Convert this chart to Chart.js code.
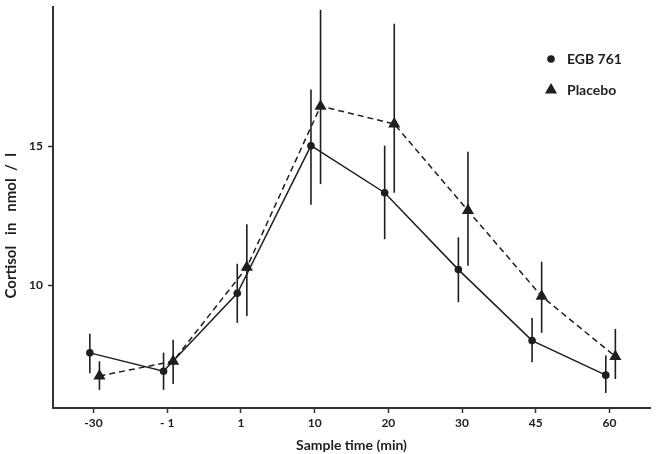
<!DOCTYPE html>
<html><head><meta charset="utf-8">
<script src="https://cdn.jsdelivr.net/npm/chart.js@4.4.1/dist/chart.umd.min.js"></script>
<style>html,body{margin:0;padding:0;background:#fff}#wrap{width:657px;height:454px;position:relative}</style>
</head><body><div id="wrap"><canvas id="c"></canvas></div>
<script>
const categories = ['-30', '- 1', '1', '10', '20', '30', '45', '60'];
const egbMean = [7.58, 6.92, 9.72, 15.02, 13.33, 10.57, 8.02, 6.78];
const egbLow  = [6.85, 6.25, 8.66, 12.90, 11.66, 9.40, 7.24, 6.14];
const egbHigh = [8.27, 7.59, 10.78, 17.04, 15.02, 11.73, 8.83, 7.49];
const plaMean = [6.75, 7.28, 10.65, 16.44, 15.80, 12.69, 9.61, 7.45];
const plaLow  = [6.25, 6.46, 8.90, 13.64, 13.33, 10.71, 8.30, 6.64];
const plaHigh = [7.28, 8.05, 12.20, 19.90, 19.40, 14.80, 10.85, 8.44];
const yTicks = [10, 15];

const INK = '#1e1e1e';
const FONT = 'Lato, "Open Sans", sans-serif';
const EGB_SHIFT = -0.05, PLA_SHIFT = 0.08;

function pts(mean, lo, hi, shift) {
  return mean.map((v, i) => ({ x: i + shift, y: v, lo: lo[i], hi: hi[i] }));
}

const errorBars = {
  id: 'errorBars',
  beforeDatasetsDraw(chart) {
    const { ctx, scales: { x, y } } = chart;
    ctx.save();
    ctx.strokeStyle = INK;
    ctx.lineWidth = 1.6;
    chart.data.datasets.forEach(ds => {
      ds.data.forEach(p => {
        const px = x.getPixelForValue(p.x);
        ctx.beginPath();
        ctx.moveTo(px, y.getPixelForValue(p.lo));
        ctx.lineTo(px, y.getPixelForValue(p.hi));
        ctx.stroke();
      });
    });
    ctx.restore();
  }
};

const legendBox = {
  id: 'legendBox',
  afterDraw(chart) {
    const { ctx, chartArea } = chart;
    ctx.save();
    ctx.fillStyle = INK;
    ctx.font = 'bold 14px ' + FONT;
    ctx.textBaseline = 'middle';
    const mx = chartArea.right - 99, tx = chartArea.right - 83;
    const rows = [chartArea.top + 52, chartArea.top + 83];
    chart.data.datasets.forEach((ds, i) => {
      const cy = rows[i];
      ctx.beginPath();
      if (ds.pointStyle === 'triangle') {
        const r = 7;
        ctx.moveTo(mx, cy - r);
        ctx.lineTo(mx + r * 0.866, cy + r * 0.5);
        ctx.lineTo(mx - r * 0.866, cy + r * 0.5);
        ctx.closePath();
      } else {
        ctx.arc(mx, cy, 3.8, 0, Math.PI * 2);
      }
      ctx.fill();
      ctx.fillText(ds.label, tx, cy);
    });
    ctx.restore();
  }
};

function noPad(s) {
  s.paddingTop = 0; s.paddingBottom = 0; s.paddingLeft = 0; s.paddingRight = 0;
}

new Chart(document.getElementById('c'), {
  type: 'line',
  data: {
    datasets: [
      {
        label: 'EGB 761',
        data: pts(egbMean, egbLow, egbHigh, EGB_SHIFT),
        borderColor: INK, backgroundColor: INK, borderWidth: 1.5,
        pointStyle: 'circle', pointRadius: 3.8, pointBorderWidth: 0,
        tension: 0
      },
      {
        label: 'Placebo',
        data: pts(plaMean, plaLow, plaHigh, PLA_SHIFT),
        borderColor: INK, backgroundColor: INK, borderWidth: 1.5,
        borderDash: [6, 4],
        pointStyle: 'triangle', pointRadius: 7, pointBorderWidth: 0,
        tension: 0
      }
    ]
  },
  options: {
    responsive: true, maintainAspectRatio: false, animation: false,
    layout: { padding: { top: 2, right: 3, left: 0, bottom: 0 } },
    plugins: { legend: { display: false }, tooltip: { enabled: false } },
    scales: {
      x: {
        type: 'linear', min: -0.55, max: 7.55,
        afterBuildTicks: s => { s.ticks = categories.map((c, i) => ({ value: i })); },
        afterFit: s => { s.height = 46; noPad(s); },
        ticks: {
          callback: v => categories[v], autoSkip: false, maxRotation: 0,
          color: INK, font: { family: FONT, size: 12, weight: 'bold' }, padding: 3
        },
        grid: { display: true, drawOnChartArea: false, tickLength: 5, tickColor: '#333', tickWidth: 1.5 },
        border: { display: true, color: '#333', width: 2 },
        title: { display: true, text: 'Sample time (min)', color: INK,
          font: { family: FONT, size: 14, weight: 'bold' }, padding: { top: 2, bottom: 0 } }
      },
      y: {
        type: 'linear', min: 5.6, max: 20,
        afterBuildTicks: s => { s.ticks = yTicks.map(v => ({ value: v })); },
        afterFit: s => { s.width = 53; noPad(s); },
        ticks: { color: INK, font: { family: FONT, size: 12, weight: 'bold' }, padding: 5 },
        grid: { display: true, drawOnChartArea: false, tickLength: 5, tickColor: '#333', tickWidth: 1.5 },
        border: { display: true, color: '#333', width: 2 },
        title: { display: true, text: 'Cortisol   in   nmol  /  l' + '          ', color: INK,
          font: { family: FONT, size: 15, weight: 'bold' }, padding: { top: 2, bottom: 0 } }
      }
    }
  },
  plugins: [errorBars, legendBox]
});
</script>
</body></html>
